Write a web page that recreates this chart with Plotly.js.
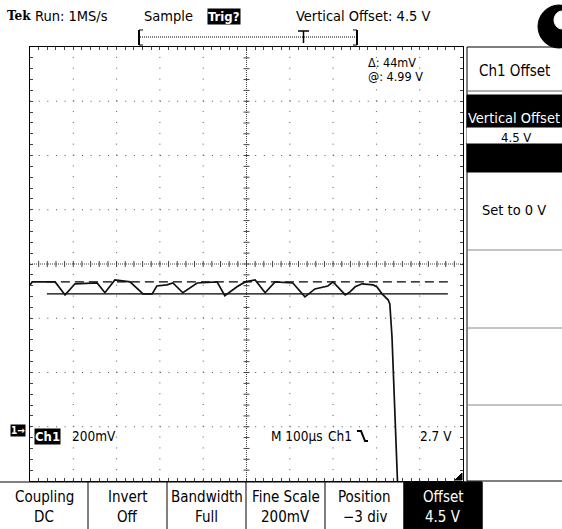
<!DOCTYPE html>
<html><head><meta charset="utf-8">
<script src="https://cdn.plot.ly/plotly-3.0.1.min.js"></script>
<style>html,body{margin:0;padding:0;background:#fff;overflow:hidden}</style>
</head><body><div id="plot" style="width:562px;height:529px"></div>
<script>
// ---- data ----
const timeUs = [0, 5, 35, 58, 81, 104, 155, 173, 196, 231, 261, 282, 293, 316, 330, 353, 386, 432, 450, 478, 497, 520, 543, 566, 607, 635, 658, 688, 700, 728, 739, 751, 767, 792, 801, 813, 827, 831, 836, 838, 841, 845, 848, 850];
const ch1Volts = [5.023, 5.034, 5.034, 5.034, 4.986, 5.027, 5.030, 4.994, 5.041, 5.034, 4.990, 4.990, 5.019, 5.023, 5.030, 4.994, 5.030, 5.034, 4.983, 5.016, 5.034, 5.041, 4.994, 5.034, 5.030, 4.979, 5.008, 5.019, 5.034, 4.986, 4.997, 5.016, 5.027, 5.023, 5.016, 4.990, 4.968, 4.953, 4.832, 4.733, 4.586, 4.454, 4.307, 4.245];
const cursorVolts = [4.99, 5.034];
const cursorSpanUs = [39, 965];
const timeRangeUs = [0, 1000];
const voltRange = [4.3, 5.9];
const timePerDiv = 100;
const voltsPerDiv = 0.2;
const bottomMenuTop = ["Coupling", "Invert", "Bandwidth", "Fine Scale", "Position", "Offset"];
const bottomMenuBottom = ["DC", "Off", "Full", "200mV", "\u22123 div", "4.5 V"];

// ---- page geometry (pixels) ----
const W = 562, H = 529, L = 30, R = 463, T = 47, B = 481;
const fx = x => (x - L) / (R - L);
const fy = y => (B - y) / (B - T);
const FONT = "DejaVu Sans Condensed, Liberation Sans Narrow, sans-serif";

const shapes = [];
const annotations = [];
function pline(x0, y0, x1, y1, color, width, dash) {
  shapes.push({type: "line", xref: "paper", yref: "paper", x0: fx(x0), y0: fy(y0), x1: fx(x1), y1: fy(y1),
    line: {color: color || "#000", width: width || 1, dash: dash || "solid"}, layer: "above"});
}
function prect(x0, y0, x1, y1, fill, lineColor, layer) {
  shapes.push({type: "rect", xref: "paper", yref: "paper", x0: fx(x0), y0: fy(y0), x1: fx(x1), y1: fy(y1),
    fillcolor: fill || "rgba(0,0,0,0)", line: {color: lineColor || "rgba(0,0,0,0)", width: 1}, layer: layer || "above"});
}
function ptext(x, y, text, opts) {
  opts = opts || {};
  annotations.push({xref: "paper", yref: "paper", x: fx(x), y: fy(y), text: text, showarrow: false,
    xanchor: opts.xanchor || "left", yanchor: "middle",
    font: {family: opts.family || FONT, size: opts.size || 13, color: opts.color || "#000"},
    bgcolor: opts.bg || "rgba(0,0,0,0)", borderpad: opts.pad || 0});
}

// ---- graticule (data coords) ----
const nx = (timeRangeUs[1] - timeRangeUs[0]) / timePerDiv;
const ny = Math.round((voltRange[1] - voltRange[0]) / voltsPerDiv);
const tc = (timeRangeUs[0] + timeRangeUs[1]) / 2, vc = (voltRange[0] + voltRange[1]) / 2;
const pxPerUs = (R - L) / (timeRangeUs[1] - timeRangeUs[0]);
const pxPerV = (B - T) / (voltRange[1] - voltRange[0]);
for (let i = 1; i < nx; i++) {
  const t = timeRangeUs[0] + i * timePerDiv;
  if (Math.abs(t - tc) < 1e-6) continue;
  shapes.push({type: "line", xref: "x", yref: "y", x0: t, x1: t, y0: voltRange[0], y1: voltRange[1],
    line: {color: "#555", width: 1, dash: "1px," + ((B - T) / ny / 5 - 1).toFixed(2) + "px"}, layer: "below"});
}
for (let j = 1; j < ny; j++) {
  const v = voltRange[0] + j * voltsPerDiv;
  if (Math.abs(v - vc) < 1e-6) continue;
  shapes.push({type: "line", xref: "x", yref: "y", x0: timeRangeUs[0], x1: timeRangeUs[1], y0: v, y1: v,
    line: {color: "#555", width: 1, dash: "1px," + ((R - L) / nx / 5 - 1).toFixed(2) + "px"}, layer: "below"});
}
// centre cross with minor ticks
shapes.push({type: "line", xref: "x", yref: "y", x0: timeRangeUs[0], x1: timeRangeUs[1], y0: vc, y1: vc,
  line: {color: "#444", width: 1, dash: "1px,1px"}, layer: "below"});
shapes.push({type: "line", xref: "x", yref: "y", x0: tc, x1: tc, y0: voltRange[0], y1: voltRange[1],
  line: {color: "#444", width: 1, dash: "1px,1px"}, layer: "below"});
for (let k = 1; k < nx * 5; k++) {
  const t = timeRangeUs[0] + k * timePerDiv / 5;
  shapes.push({type: "line", xref: "x", yref: "y", x0: t, x1: t, y0: vc - 3 / pxPerV, y1: vc + 3 / pxPerV,
    line: {color: "#444", width: 1}, layer: "below"});
}
for (let k = 1; k < ny * 5; k++) {
  const v = voltRange[0] + k * voltsPerDiv / 5;
  shapes.push({type: "line", xref: "x", yref: "y", x0: tc - 3 / pxPerUs, x1: tc + 3 / pxPerUs, y0: v, y1: v,
    line: {color: "#444", width: 1}, layer: "below"});
}

// ---- status line ----
ptext(6, 15, "<b>Tek</b>", {size: 13.5, family: "DejaVu Serif Condensed, DejaVu Serif, serif"});
ptext(34, 16, "Run: 1MS/s", {size: 14.5});
ptext(143, 16, "Sample", {size: 14.5});
ptext(207, 16, "<b>Trig?</b>", {color: "#fff", bg: "#000", size: 13});
ptext(295, 16, "Vertical Offset: 4.5 V", {size: 14.5});
// record bar
pline(140, 37, 355, 37, "#000", 1, "1px,1px");
pline(139, 30, 139, 45, "#000", 2);
pline(139, 30, 143, 30, "#000", 1);
pline(139, 45, 143, 45, "#000", 1);
pline(357, 30, 357, 45, "#000", 2);
pline(353, 30, 357, 30, "#000", 1);
pline(353, 45, 357, 45, "#000", 1);
pline(298, 31, 309, 31, "#000", 1.5);
pline(303.5, 31, 303.5, 43, "#000", 1.5);
// busy indicator
shapes.push({type: "circle", xref: "paper", yref: "paper", x0: fx(538), x1: fx(580), y0: fy(5), y1: fy(48),
  fillcolor: "#000", line: {color: "#000", width: 1}, layer: "above"});
shapes.push({type: "circle", xref: "paper", yref: "paper", x0: fx(554), x1: fx(570), y0: fy(11), y1: fy(29),
  fillcolor: "#fff", line: {color: "#fff", width: 1}, layer: "above"});

// ---- right menu ----
prect(467, 47, 575, 481, null, "#000");
pline(467, 91, 562, 91, "#666", 1);
prect(467, 95, 575, 172, "#000", "#000");
prect(467, 128, 575, 143, "#fff", "#fff");
ptext(514, 71, "Ch1 Offset", {xanchor: "center", size: 15});
ptext(467, 118.5, "Vertical Offset", {color: "#fff", size: 14.5});
ptext(500, 137.5, "4.5 V", {size: 13});
ptext(514, 210, "Set to 0 V", {xanchor: "center", size: 14.5});
pline(467, 250, 562, 250, "#888", 1);
pline(467, 328, 562, 328, "#888", 1);
pline(467, 405, 562, 405, "#888", 1);

// ---- bottom menu ----
const sepX = [0, 88, 167, 246, 325, 404, 482];
pline(0, 482, 482, 482, "#000", 1);
prect(404, 482, 482, 532, "#000", "#000");
for (let i = 1; i < sepX.length; i++) pline(sepX[i], 482, sepX[i], 529, "#000", 1);
for (let i = 0; i < bottomMenuTop.length; i++) {
  const cx = (sepX[i] + sepX[i + 1]) / 2;
  const col = i === bottomMenuTop.length - 1 ? "#fff" : "#000";
  ptext(cx, 497, bottomMenuTop[i], {xanchor: "center", color: col, size: 15});
  ptext(cx, 516.5, bottomMenuBottom[i], {xanchor: "center", color: col, size: 15});
}

// ---- readouts on graticule ----
ptext(10, 430, "<b>1\u2192</b>", {color: "#fff", bg: "#000", size: 10});
ptext(34, 436, "<b>Ch1</b>", {color: "#fff", bg: "#000", size: 13});
ptext(71, 436, "200mV", {size: 13.5});
ptext(270, 436, "M 100\u00b5s", {size: 13.5});
ptext(327, 436, "Ch1", {size: 13.5});
shapes.push({type: "path", xref: "paper", yref: "paper",
  path: "M " + fx(357) + "," + fy(431) + " L " + fx(361) + "," + fy(431) + " L " + fx(365) + "," + fy(441) + " L " + fx(368) + "," + fy(441),
  line: {color: "#000", width: 2}, layer: "above"});
ptext(419, 436, "2.7 V", {size: 13.5});
ptext(367, 63, "\u0394: 44mV", {size: 12.5});
ptext(367, 76, "@: 4.99 V", {size: 12.5});
shapes.push({type: "path", xref: "paper", yref: "paper",
  path: "M " + fx(455) + "," + fy(480) + " L " + fx(462) + "," + fy(480) + " L " + fx(462) + "," + fy(473) + " Z",
  fillcolor: "#000", line: {color: "#000", width: 1}, layer: "above"});

// ---- traces ----
const traces = [
  {x: cursorSpanUs, y: [cursorVolts[0], cursorVolts[0]], type: "scatter", mode: "lines",
   line: {color: "#000", width: 1.3}, hoverinfo: "skip"},
  {x: cursorSpanUs, y: [cursorVolts[1], cursorVolts[1]], type: "scatter", mode: "lines",
   line: {color: "#000", width: 1.3, dash: "9px,5px"}, hoverinfo: "skip"},
  {x: timeUs, y: ch1Volts, type: "scatter", mode: "lines", line: {color: "#111", width: 1.7}, hoverinfo: "skip"}
];

const layout = {
  width: W, height: H, showlegend: false,
  margin: {l: L, r: W - R, t: T, b: H - B, pad: 0},
  paper_bgcolor: "#fff", plot_bgcolor: "#fff",
  xaxis: {range: timeRangeUs, tick0: 0, dtick: timePerDiv / 5, ticks: "inside", ticklen: 3, tickcolor: "#444",
    showline: true, linecolor: "#000", linewidth: 1, mirror: "ticks", showgrid: false, zeroline: false,
    showticklabels: false, fixedrange: true},
  yaxis: {range: voltRange, tick0: voltRange[0], dtick: voltsPerDiv / 5, ticks: "inside", ticklen: 3, tickcolor: "#444",
    showline: true, linecolor: "#000", linewidth: 1, mirror: "ticks", showgrid: false, zeroline: false,
    showticklabels: false, fixedrange: true},
  shapes: shapes, annotations: annotations
};
Plotly.newPlot("plot", traces, layout, {displayModeBar: false, staticPlot: true});
</script></body></html>
